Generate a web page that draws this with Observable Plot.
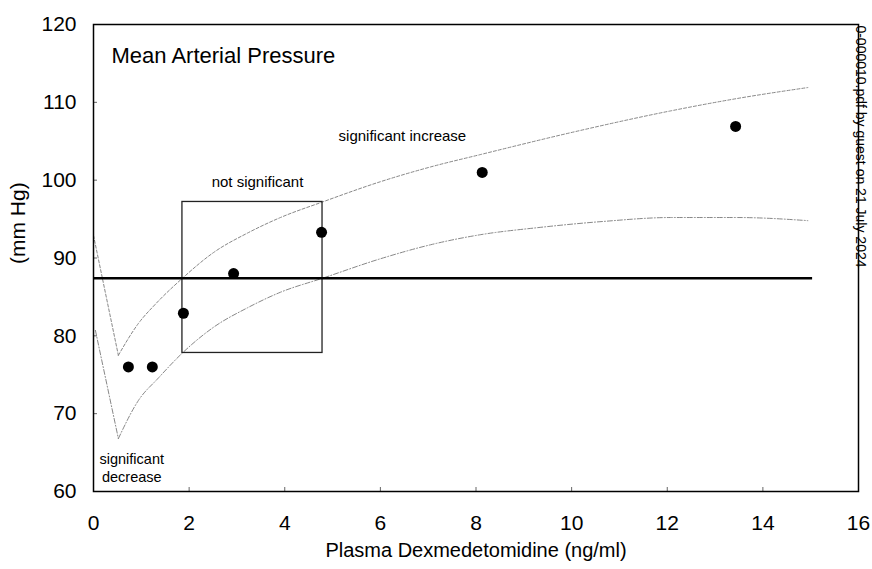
<!DOCTYPE html>
<html>
<head>
<meta charset="utf-8">
<script src="https://cdn.jsdelivr.net/npm/d3@7"></script>
<script src="https://cdn.jsdelivr.net/npm/@observablehq/plot@0.6"></script>
<style>
  html, body { margin: 0; padding: 0; background: white; }
  #chart svg { display: block; }
</style>
</head>
<body>
<div id="chart"></div>
<script>
// Observed data points: plasma dexmedetomidine (ng/ml) vs mean arterial pressure (mm Hg)
const conc = [0.73, 1.23, 1.88, 2.93, 4.77, 8.13, 13.43];
const map  = [76.0, 76.0, 82.9, 88.0, 93.3, 101.0, 106.9];

// Upper boundary curve ("significant increase")
const upperX = [0, 0.52, 0.94, 1.30, 1.86, 2.51, 3.22, 3.91, 4.79, 6.0, 7.05, 8.10, 9.98, 12.07, 13.47, 14.94];
const upperY = [92.9, 77.5, 81.6, 84.1, 87.4, 90.7, 93.2, 95.2, 97.2, 99.8, 101.7, 103.3, 106.1, 108.9, 110.5, 111.9];

// Lower boundary curve ("significant decrease")
const lowerX = [0.04, 0.52, 0.94, 1.36, 1.86, 2.51, 3.22, 3.91, 4.79, 6.0, 7.05, 8.10, 9.29, 10.67, 12.07, 13.47, 14.94];
const lowerY = [80.7, 66.8, 71.7, 74.6, 77.8, 81.1, 83.6, 85.6, 87.4, 89.9, 91.7, 93.0, 93.9, 94.7, 95.2, 95.2, 94.8];

// Baseline MAP and its extent
const baselineMAP = 87.4;
const baselineExtent = [0, 15.04];

// "not significant" box
const boxX = [1.86, 4.79];
const boxY = [77.8, 97.2];

// Tick values
const xTicks = [0, 2, 4, 6, 8, 10, 12, 14, 16];
const yTicks = [60, 70, 80, 90, 100, 110, 120];

// Texts
const titleText = "Mean Arterial Pressure";
const xLabel = "Plasma Dexmedetomidine (ng/ml)";
const yLabel = "(mm Hg)";
const noteTexts = ["not significant", "significant increase", "significant\ndecrease"];
const watermark = "0-000010.pdf by guest on 21 July 2024";

const points = conc.map((c, i) => ({c, m: map[i]}));
// split each curve at its minimum: a straight descending leg and a smooth rising leg
function legs(xs, ys) {
  const k = ys.indexOf(d3.min(ys));
  const out = [];
  xs.forEach((x, i) => {
    if (i <= k) out.push({x, y: ys[i], seg: "down"});
    if (i >= k) out.push({x, y: ys[i], seg: "up"});
  });
  return out;
}
const upper = legs(upperX, upperY);
const lower = legs(lowerX, lowerY);
const box = [{x1: boxX[0], x2: boxX[1], y1: boxY[0], y2: boxY[1]}];

const font = "'Liberation Sans', Arial, Helvetica, sans-serif";

const chart = Plot.plot({
  width: 872,
  height: 569,
  marginLeft: 93,
  marginRight: 14,
  marginTop: 24,
  marginBottom: 78,
  style: {fontFamily: font, background: "white", color: "black", overflow: "hidden"},
  x: {domain: [0, 16], ticks: xTicks},
  y: {domain: [60, 120], ticks: yTicks},
  marks: [
    Plot.axisX({ticks: xTicks, tickSize: -4, tickPadding: 28, fontSize: 21, label: null, stroke: "#666"}),
    Plot.axisY({ticks: yTicks, tickSize: -4, tickPadding: 21, fontSize: 21, label: null, stroke: "#666"}),
    Plot.line(upper, {x: "x", y: "y", z: "seg", curve: "monotone-x", stroke: "#888", strokeWidth: 1, strokeDasharray: "3,2"}),
    Plot.line(lower, {x: "x", y: "y", z: "seg", curve: "monotone-x", stroke: "#888", strokeWidth: 1, strokeDasharray: "5,2,1,2"}),
    Plot.rect(box, {x1: "x1", x2: "x2", y1: "y1", y2: "y2", fill: "none", stroke: "#222", strokeWidth: 1.3}),
    Plot.ruleY([baselineMAP], {x1: baselineExtent[0], x2: baselineExtent[1], stroke: "black", strokeWidth: 2.5}),
    Plot.dot(points, {x: "c", y: "m", r: 5.5, fill: "black", stroke: "none"}),
    Plot.frame({stroke: "black", strokeWidth: 1.5}),
    Plot.text([titleText], {text: d => d, frameAnchor: "top-left", dx: 18, dy: 23, textAnchor: "start", fontSize: 22}),
    Plot.text([noteTexts[0]], {text: d => d, x: 3.43, y: 99.7, fontSize: 15}),
    Plot.text([noteTexts[1]], {text: d => d, x: 6.46, y: 105.6, fontSize: 15}),
    Plot.text([noteTexts[2]], {text: d => d, x: 0.8, y: 63.1, fontSize: 14.5, lineHeight: 1.2}),
    Plot.text([xLabel], {text: d => d, frameAnchor: "bottom", dy: 65, fontSize: 20}),
    Plot.text([yLabel], {text: d => d, frameAnchor: "left", dx: -75, dy: 6, rotate: -90, fontSize: 21}),
    Plot.text([watermark], {text: d => d, frameAnchor: "top-right", dx: 7, dy: 243, rotate: 90, textAnchor: "end", fontSize: 14})
  ]
});

document.getElementById("chart").appendChild(chart);
</script>
</body>
</html>
